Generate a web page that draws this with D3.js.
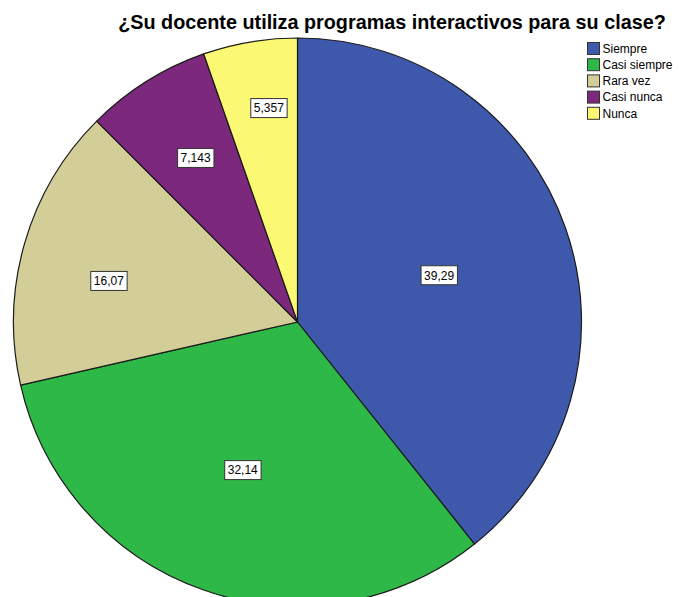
<!DOCTYPE html>
<html>
<head>
<meta charset="utf-8">
<script src="https://cdn.jsdelivr.net/npm/d3@7/dist/d3.min.js"></script>
<style>
  html, body { margin: 0; padding: 0; background: #fff; }
  svg { display: block; }
</style>
</head>
<body>
<div id="chart"></div>
<script>
// Survey answers: share of respondents per option (percent)
const categories = ["Siempre", "Casi siempre", "Rara vez", "Casi nunca", "Nunca"];
const values = [39.29, 32.14, 16.07, 7.143, 5.357];
const valueLabels = ["39,29", "32,14", "16,07", "7,143", "5,357"];
const colors = ["#3e58ac", "#2eb848", "#d3ce97", "#7c287d", "#fbf873"];
// Placement of each value tag: distance from the centre (fraction of radius)
// and a small angular nudge (degrees) away from the slice bisector
const labelRadiusFrac = [0.525, 0.556, 0.68, 0.68, 0.76];
const labelAngleNudge = [1, 1, -3.8, 0.3, 2];

const W = 681, H = 597;
const cx = 297.5, cy = 322, R = 284;

const svg = d3.select("#chart").append("svg")
  .attr("width", W).attr("height", H)
  .style("font-family", "'Liberation Sans', Arial, sans-serif");

const data = categories.map((c, i) => ({
  cat: c, value: values[i], label: valueLabels[i], color: colors[i],
  lf: labelRadiusFrac[i], nudge: labelAngleNudge[i]
}));

const pie = d3.pie().sort(null).value(d => d.value);
const arc = d3.arc().innerRadius(0).outerRadius(R);
const arcs = pie(data);

const g = svg.append("g").attr("transform", `translate(${cx},${cy})`);

g.selectAll("path.slice").data(arcs).enter().append("path")
  .attr("class", "slice")
  .attr("d", arc)
  .attr("fill", d => d.data.color)
  .attr("stroke", "#1a1a1a")
  .attr("stroke-width", 1.2)
  .attr("stroke-linejoin", "round");

// Value tags: white boxes with a thin dark border
const tags = g.selectAll("g.tag").data(arcs).enter().append("g")
  .attr("class", "tag")
  .attr("transform", d => {
    const a = (d.startAngle + d.endAngle) / 2 + d.data.nudge * Math.PI / 180;
    const r = R * d.data.lf;
    return `translate(${r * Math.sin(a)},${-r * Math.cos(a)})`;
  });

tags.append("text")
  .attr("text-anchor", "middle")
  .attr("dy", "0.36em")
  .attr("font-size", 12)
  .attr("fill", "#000")
  .text(d => d.data.label);

tags.each(function() {
  const t = d3.select(this).select("text");
  const bb = t.node().getBBox();
  d3.select(this).insert("rect", "text")
    .attr("x", bb.x - 3)
    .attr("y", -9.5)
    .attr("width", bb.width + 6)
    .attr("height", 19)
    .attr("fill", "#fff")
    .attr("stroke", "#333")
    .attr("stroke-width", 1);
});

// Title
svg.append("text")
  .attr("x", 392)
  .attr("y", 29)
  .attr("text-anchor", "middle")
  .attr("font-size", 19.8)
  .attr("font-weight", "bold")
  .attr("fill", "#000")
  .text("¿Su docente utiliza programas interactivos para su clase?");

// Legend
const legend = svg.append("g").attr("transform", "translate(587,42)");
const rowH = 16.2;
const items = legend.selectAll("g").data(data).enter().append("g")
  .attr("transform", (d, i) => `translate(0,${i * rowH})`);
items.append("rect")
  .attr("x", 0.5).attr("y", 0.5)
  .attr("width", 12).attr("height", 12)
  .attr("fill", d => d.color)
  .attr("stroke", "#333").attr("stroke-width", 1);
items.append("text")
  .attr("x", 15.5).attr("y", 6.5)
  .attr("dy", "0.36em")
  .attr("font-size", 12)
  .attr("fill", "#000")
  .text(d => d.cat);
</script>
</body>
</html>
